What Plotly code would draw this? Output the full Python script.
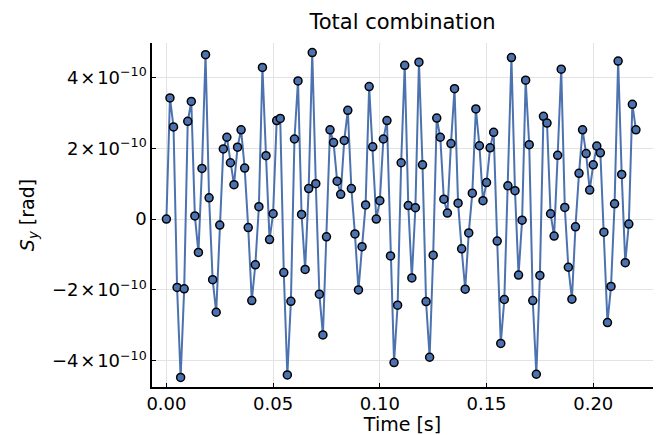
import numpy as np
import plotly.graph_objects as go

# Sampling: 133 samples at 600 Hz
fs = 600.0
n_samples = 133
time_s = np.arange(n_samples) / fs

# S_y signal, in units of 1e-10 rad
sy_e10 = [
    0.00, 3.42, 2.60, -1.93, -4.47, -1.97, 2.76, 3.32, 0.09, -0.94,
    1.43, 4.64, 0.60, -1.71, -2.63, -0.17, 1.98, 2.31, 1.59, 0.97,
    2.03, 2.52, 1.44, -0.24, -2.30, -1.29, 0.35, 4.28, 1.79, -0.58,
    0.15, 2.78, 2.84, -1.51, -4.40, -2.32, 2.26, 3.90, 0.13, -1.42,
    0.86, 4.70, 1.00, -2.12, -3.27, -0.50, 2.52, 2.16, 1.07, 0.70,
    2.22, 3.07, 0.86, -0.42, -2.00, -0.78, 0.40, 3.74, 2.04, 0.00,
    0.52, 2.26, 2.78, -1.04, -4.05, -2.43, 1.59, 4.34, 0.38, -1.66,
    0.32, 4.43, 1.53, -2.33, -3.90, -1.02, 2.85, 2.31, 0.56, 0.17,
    2.13, 3.68, 0.45, -0.84, -1.98, -0.39, 0.73, 3.11, 2.07, 0.52,
    1.03, 2.01, 2.45, -0.62, -3.51, -2.27, 0.94, 4.56, 0.80, -1.58,
    -0.03, 3.92, 2.10, -2.30, -4.38, -1.59, 2.90, 2.71, 0.15, -0.48,
    1.80, 4.23, 0.33, -1.36, -2.26, -0.22, 1.29, 2.52, 1.85, 0.82,
    1.53, 2.06, 1.87, -0.37, -2.92, -1.90, 0.43, 4.46, 1.26, -1.23,
    -0.14, 3.24, 2.52,
]
sy = np.array(sy_e10) * 1e-10

x_ticks = [0.0, 0.05, 0.10, 0.15, 0.20]
x_ticklabels = ["0.00", "0.05", "0.10", "0.15", "0.20"]
y_ticks = [-4e-10, -2e-10, 0.0, 2e-10, 4e-10]
y_ticklabels = ["−4\u200a×\u200a10<sup>−10</sup>", "−2\u200a×\u200a10<sup>−10</sup>", "0",
                "2\u200a×\u200a10<sup>−10</sup>", "4\u200a×\u200a10<sup>−10</sup>"]

blue = "#4C72B0"
font = "DejaVu Sans"

fig = go.Figure()
fig.add_trace(go.Scatter(
    x=time_s, y=sy, mode="lines+markers",
    line=dict(color=blue, width=2),
    marker=dict(color=blue, size=8, line=dict(color="black", width=1.5)),
    showlegend=False,
))

axis_common = dict(
    showline=True, linecolor="black", linewidth=1.5, mirror=False,
    showgrid=True, gridcolor="#e3e3e3", gridwidth=1,
    ticks="inside", ticklen=4, tickcolor="black", tickwidth=1,
    zeroline=False, tickfont=dict(family=font, size=18, color="black"),
)

fig.update_layout(
    width=657, height=435,
    paper_bgcolor="white", plot_bgcolor="white",
    margin=dict(l=152, r=4, t=43, b=48, autoexpand=False),
    title=dict(text="Total combination", x=(152 + 653) / 2 / 657, xanchor="center",
               y=1 - 22 / 435, yanchor="middle",
               font=dict(family=font, size=21, color="black")),
    xaxis=dict(axis_common, range=[-0.00675, 0.228],
               tickvals=x_ticks, ticktext=x_ticklabels,
               title=dict(text="Time [s]", standoff=3,
                          font=dict(family=font, size=19, color="black"))),
    yaxis=dict(axis_common, range=[-4.74e-10, 4.97e-10],
               tickvals=y_ticks, ticktext=y_ticklabels,
               title=dict(text="<i>S</i><sub><i>y</i></sub> [rad]", standoff=12,
                          font=dict(family=font, size=19, color="black"))),
)

fig.write_html("out.html")
